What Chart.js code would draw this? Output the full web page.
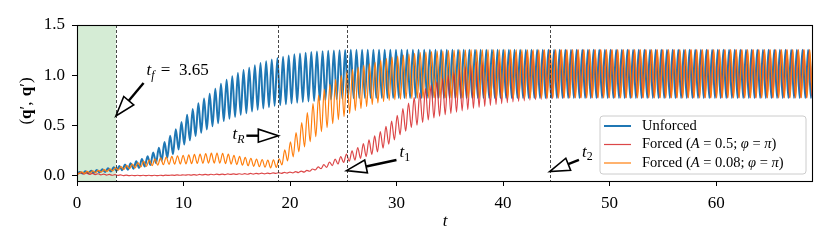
<!DOCTYPE html>
<html>
<head>
<meta charset="utf-8">
<script src="https://cdn.jsdelivr.net/npm/chart.js@4.4.1/dist/chart.umd.min.js"></script>
<style>
html,body{margin:0;padding:0;background:#fff;}
#wrap{width:831px;height:250px;position:relative;}
</style>
</head>
<body>
<div id="wrap"><canvas id="c"></canvas></div>
<script>
// ---------------- DATA ----------------
// oscillation period and phase of each series (time units)
const PERIOD = 0.53;
const phaseUnforced = 0.0;
const phaseForcedA05 = -0.413;
const phaseForcedA008 = -0.371;

// per-cycle troughs (lo) and peaks (hi), cycle k = 0..131
const unforcedLo = [
.020,.024,.028,.031,.035,.040,.045,.051,.057,.063,
.071,.081,.093,.110,.129,.152,.180,.215,.263,.312,
.354,.397,.430,.462,.493,.524,.545,.568,.587,.608,
.624,.641,.658,.671,.684,.697,.705,.713,.721,.728,
.735,.741,.746,.750,.754,.759,.763,.767,.769,.772,
.775,.775,.775,.775,.775,.775,.775,.775,.775,.775,
.775,.775,.775,.775,.775,.775,.775,.775,.775,.775,
.775,.775,.775,.775,.775,.775,.775,.775,.775,.775,
.775,.775,.775,.775,.775,.775,.775,.775,.775,.775,
.775,.775,.775,.775,.775,.775,.775,.775,.775,.775,
.775,.775,.775,.775,.775,.775,.775,.775,.775,.775,
.775,.775,.775,.775,.775,.775,.775,.775,.775,.775,
.775,.775,.775,.775,.775,.775,.775,.775,.775,.775,
.775,.775];
const unforcedHi = [
.040,.046,.052,.059,.067,.076,.087,.099,.113,.127,
.145,.169,.197,.234,.281,.338,.400,.465,.537,.608,
.666,.723,.770,.818,.867,.916,.955,.992,1.023,1.052,
1.076,1.099,1.122,1.139,1.156,1.173,1.185,1.197,1.209,1.218,
1.225,1.231,1.236,1.240,1.244,1.247,1.249,1.251,1.253,1.254,
1.255,1.255,1.255,1.255,1.255,1.255,1.255,1.255,1.255,1.255,
1.255,1.255,1.255,1.255,1.255,1.255,1.255,1.255,1.255,1.255,
1.255,1.255,1.255,1.255,1.255,1.255,1.255,1.255,1.255,1.255,
1.255,1.255,1.255,1.255,1.255,1.255,1.255,1.255,1.255,1.255,
1.255,1.255,1.255,1.255,1.255,1.255,1.255,1.255,1.255,1.255,
1.255,1.255,1.255,1.255,1.255,1.255,1.255,1.255,1.255,1.255,
1.255,1.255,1.255,1.255,1.255,1.255,1.255,1.255,1.255,1.255,
1.255,1.255,1.255,1.255,1.255,1.255,1.255,1.255,1.255,1.255,
1.255,1.255];

const forcedA05Lo = [
.022,.020,.018,.016,.014,.011,.009,.007,.006,.004,
.003,.003,.003,.003,.003,.003,.004,.005,.006,.007,
.008,.008,.009,.010,.011,.012,.013,.014,.015,.016,
.017,.017,.018,.020,.021,.023,.025,.026,.029,.031,
.034,.039,.047,.060,.072,.086,.103,.119,.134,.146,
.157,.175,.193,.214,.240,.277,.315,.358,.410,.445,
.480,.505,.532,.556,.577,.594,.609,.622,.634,.647,
.660,.672,.682,.692,.702,.710,.719,.728,.735,.741,
.747,.753,.758,.762,.766,.769,.772,.774,.775,.775,
.775,.775,.775,.775,.775,.775,.775,.775,.775,.775,
.775,.775,.775,.775,.775,.775,.775,.775,.775,.775,
.775,.775,.775,.775,.775,.775,.775,.775,.775,.775,
.775,.775,.775,.775,.775,.775,.775,.775,.775,.775,
.775,.775];
const forcedA05Hi = [
.038,.034,.030,.026,.022,.019,.015,.013,.010,.008,
.007,.007,.007,.007,.007,.007,.008,.009,.010,.011,
.012,.014,.015,.016,.017,.018,.019,.020,.021,.022,
.023,.025,.026,.028,.029,.031,.033,.036,.039,.043,
.048,.055,.069,.090,.112,.138,.167,.193,.218,.250,
.283,.321,.359,.398,.440,.493,.545,.602,.670,.725,
.780,.825,.868,.904,.935,.966,.999,1.028,1.056,1.083,
1.110,1.132,1.152,1.168,1.182,1.194,1.205,1.216,1.225,1.231,
1.237,1.243,1.248,1.250,1.252,1.253,1.254,1.254,1.255,1.255,
1.255,1.255,1.255,1.255,1.255,1.255,1.255,1.255,1.255,1.255,
1.255,1.255,1.255,1.255,1.255,1.255,1.255,1.255,1.255,1.255,
1.255,1.255,1.255,1.255,1.255,1.255,1.255,1.255,1.255,1.255,
1.255,1.255,1.255,1.255,1.255,1.255,1.255,1.255,1.255,1.255,
1.255,1.255];

const forcedA008Lo = [
.022,.024,.026,.030,.034,.039,.045,.051,.058,.065,
.073,.081,.089,.095,.102,.108,.112,.115,.117,.118,
.120,.122,.124,.126,.128,.128,.127,.123,.118,.113,
.107,.102,.096,.092,.088,.080,.085,.110,.150,.190,
.240,.290,.340,.390,.440,.480,.520,.560,.590,.620,
.650,.670,.690,.710,.725,.740,.750,.758,.763,.767,
.770,.772,.773,.774,.775,.775,.775,.775,.775,.775,
.775,.775,.775,.775,.775,.775,.775,.775,.775,.775,
.775,.775,.775,.775,.775,.775,.775,.775,.775,.775,
.775,.775,.775,.775,.775,.775,.775,.775,.775,.775,
.775,.775,.775,.775,.775,.775,.775,.775,.775,.775,
.775,.775,.775,.775,.775,.775,.775,.775,.775,.775,
.775,.775,.775,.775,.775,.775,.775,.775,.775,.775,
.775,.775];
const forcedA008Hi = [
.038,.042,.046,.050,.056,.063,.071,.081,.092,.105,
.119,.133,.147,.159,.170,.180,.188,.195,.201,.206,
.210,.214,.218,.222,.226,.228,.225,.217,.206,.195,
.185,.176,.168,.162,.158,.160,.170,.260,.340,.430,
.530,.630,.720,.800,.860,.910,.960,1.000,1.035,1.060,
1.080,1.100,1.115,1.130,1.150,1.165,1.180,1.190,1.200,1.210,
1.218,1.225,1.231,1.236,1.240,1.244,1.247,1.250,1.252,1.254,
1.255,1.255,1.255,1.255,1.255,1.255,1.255,1.255,1.255,1.255,
1.255,1.255,1.255,1.255,1.255,1.255,1.255,1.255,1.255,1.255,
1.255,1.255,1.255,1.255,1.255,1.255,1.255,1.255,1.255,1.255,
1.255,1.255,1.255,1.255,1.255,1.255,1.255,1.255,1.255,1.255,
1.255,1.255,1.255,1.255,1.255,1.255,1.255,1.255,1.255,1.255,
1.255,1.255,1.255,1.255,1.255,1.255,1.255,1.255,1.255,1.255,
1.255,1.255];

const xTickValues = [0, 10, 20, 30, 40, 50, 60];
const yTickValues = [0.0, 0.5, 1.0, 1.5];
const markerTimes = [3.65, 18.9, 25.3, 44.4];   // dashed vertical lines
const forcingWindow = [0, 3.65];                // shaded region
const seriesNames = ['Unforced', 'Forced (A = 0.5; φ = π)', 'Forced (A = 0.08; φ = π)'];

// annotations: [tipT, tipV, tailT, tailV, textT, textV(baseline)]
const annotations = [
  {label: 'tf',  tip: [3.65, 0.596], tail: [6.25, 0.924], text: [6.53, 1.003], align: 'left'},
  {label: 'tR',  tip: [18.9, 0.400], tail: [15.9, 0.400], text: [15.72, 0.368], align: 'right'},
  {label: 't1',  tip: [25.3, 0.053], tail: [29.99, 0.159], text: [30.27, 0.189], align: 'left'},
  {label: 't2',  tip: [44.37, 0.043], tail: [47.12, 0.159], text: [47.4, 0.192], align: 'left'}
];

// ---------------- build point lists ----------------
function buildPoints(lo, hi, phase) {
  const pts = [];
  for (let k = 0; k < lo.length; k++) {
    pts.push({x: phase + k * PERIOD, y: lo[k]});
    pts.push({x: phase + (k + 0.5) * PERIOD, y: hi[k]});
  }
  return pts;
}

const SERIF = "'Liberation Serif', 'DejaVu Serif', serif";

function drawRich(ctx, x, y, segs, size, align) {
  // segs: {t, it, b, sub}
  const fontFor = s => (s.it ? 'italic ' : '') + (s.b ? 'bold ' : '') + (s.sub ? size * 0.7 : size) + 'px ' + SERIF;
  let total = 0;
  const widths = segs.map(s => { ctx.font = fontFor(s); const w = ctx.measureText(s.t).width + (s.pad || 0); total += w; return w; });
  let cx = align === 'right' ? x - total : (align === 'center' ? x - total / 2 : x);
  segs.forEach((s, i) => {
    ctx.font = fontFor(s);
    ctx.fillText(s.t, cx + (s.padL || 0), y + (s.sub ? size * 0.22 : 0));
    cx += widths[i];
  });
}

const annTexts = {
  tf: [{t: 't', it: 1}, {t: 'f', it: 1, sub: 1, pad: 2}, {t: ' =  3.65'}],
  tR: [{t: 't', it: 1}, {t: 'R', it: 1, sub: 1}],
  t1: [{t: 't', it: 1}, {t: '1', sub: 1}],
  t2: [{t: 't', it: 1}, {t: '2', sub: 1}]
};

function drawArrow(ctx, tx, ty, hx, hy) {
  const dx = hx - tx, dy = hy - ty, len = Math.hypot(dx, dy);
  const ux = dx / len, uy = dy / len, nx = -uy, ny = ux;
  const L = 20, W = 6.5;
  const bx = hx - ux * L, by = hy - uy * L;
  ctx.save();
  ctx.strokeStyle = '#000';
  ctx.lineWidth = 2.4;
  ctx.beginPath(); ctx.moveTo(tx, ty); ctx.lineTo(bx, by); ctx.stroke();
  ctx.beginPath();
  ctx.moveTo(hx, hy);
  ctx.lineTo(bx + nx * W, by + ny * W);
  ctx.lineTo(bx - nx * W, by - ny * W);
  ctx.closePath();
  ctx.fillStyle = '#fff';
  ctx.fill();
  ctx.lineWidth = 1.6;
  ctx.lineJoin = 'miter';
  ctx.stroke();
  ctx.restore();
}

const decorPlugin = {
  id: 'decor',
  beforeDatasetsDraw(chart) {
    const {ctx, chartArea: a, scales: {x}} = chart;
    ctx.save();
    ctx.fillStyle = 'rgba(44,160,44,0.2)';
    const x0 = x.getPixelForValue(forcingWindow[0]), x1 = x.getPixelForValue(forcingWindow[1]);
    ctx.fillRect(x0, a.top, x1 - x0, a.bottom - a.top);
    ctx.restore();
  },
  afterDatasetsDraw(chart) {
    const {ctx, chartArea: a, scales: {x, y}} = chart;
    ctx.save();
    // dashed markers
    ctx.strokeStyle = '#333';
    ctx.lineWidth = 0.9;
    ctx.setLineDash([3, 2]);
    markerTimes.forEach(t => {
      const px = Math.round(x.getPixelForValue(t)) + 0.5;
      ctx.beginPath(); ctx.moveTo(px, a.top); ctx.lineTo(px, a.bottom); ctx.stroke();
    });
    ctx.setLineDash([]);
    // frame
    ctx.strokeStyle = '#000';
    ctx.lineWidth = 1.1;
    ctx.strokeRect(Math.round(a.left) + 0.5, Math.round(a.top) + 0.5, Math.round(a.right - a.left), Math.round(a.bottom - a.top));
    // arrows + annotation text
    ctx.fillStyle = '#000';
    ctx.textBaseline = 'alphabetic';
    annotations.forEach(an => {
      drawArrow(ctx, x.getPixelForValue(an.tail[0]), y.getPixelForValue(an.tail[1]),
                     x.getPixelForValue(an.tip[0]), y.getPixelForValue(an.tip[1]));
      drawRich(ctx, x.getPixelForValue(an.text[0]), y.getPixelForValue(an.text[1]), annTexts[an.label], 17, an.align);
    });
    // legend
    const lx = 600, ly = 116, lw = 206, lh = 58, r = 3;
    ctx.beginPath();
    ctx.moveTo(lx + r, ly); ctx.lineTo(lx + lw - r, ly); ctx.quadraticCurveTo(lx + lw, ly, lx + lw, ly + r);
    ctx.lineTo(lx + lw, ly + lh - r); ctx.quadraticCurveTo(lx + lw, ly + lh, lx + lw - r, ly + lh);
    ctx.lineTo(lx + r, ly + lh); ctx.quadraticCurveTo(lx, ly + lh, lx, ly + lh - r);
    ctx.lineTo(lx, ly + r); ctx.quadraticCurveTo(lx, ly, lx + r, ly);
    ctx.closePath();
    ctx.fillStyle = 'rgba(255,255,255,0.8)';
    ctx.fill();
    ctx.strokeStyle = '#cccccc';
    ctx.lineWidth = 1;
    ctx.stroke();
    const rows = [126, 144.5, 163];
    const legSegs = [
      [{t: seriesNames[0]}],
      [{t: 'Forced ('}, {t: 'A', it: 1}, {t: ' = 0.5; '}, {t: 'φ', it: 1}, {t: ' = '}, {t: 'π', it: 1}, {t: ')'}],
      [{t: 'Forced ('}, {t: 'A', it: 1}, {t: ' = 0.08; '}, {t: 'φ', it: 1}, {t: ' = '}, {t: 'π', it: 1}, {t: ')'}]
    ];
    chart.data.datasets.forEach((ds, i) => {
      ctx.strokeStyle = ds.borderColor;
      ctx.lineWidth = ds.borderWidth;
      ctx.beginPath(); ctx.moveTo(604, rows[i]); ctx.lineTo(631, rows[i]); ctx.stroke();
      ctx.fillStyle = '#000';
      ctx.textBaseline = 'middle';
      drawRich(ctx, 642, rows[i], legSegs[i], 14.5, 'left');
    });
    // axis labels
    ctx.textBaseline = 'middle';
    drawRich(ctx, 445, 222, [{t: 't', it: 1}], 17, 'center');
    ctx.translate(27, 101);
    ctx.rotate(-Math.PI / 2);
    drawRich(ctx, 0, 0, [{t: '('}, {t: 'q', b: 1}, {t: '′, ', pad: 1}, {t: 'q', b: 1}, {t: '′)'}], 17, 'center');
    ctx.restore();
  }
};

const datasets = [
  {label: seriesNames[0], data: buildPoints(unforcedLo, unforcedHi, phaseUnforced), borderColor: '#1f77b4', borderWidth: 2, order: 3},
  {label: seriesNames[1], data: buildPoints(forcedA05Lo, forcedA05Hi, phaseForcedA05), borderColor: 'rgba(214,39,40,0.85)', borderWidth: 1.2, order: 2},
  {label: seriesNames[2], data: buildPoints(forcedA008Lo, forcedA008Hi, phaseForcedA008), borderColor: '#ff7f0e', borderWidth: 1.2, order: 1}
].map(d => Object.assign(d, {pointRadius: 0, fill: false, cubicInterpolationMode: 'monotone', clip: 0}));

new Chart(document.getElementById('c'), {
  type: 'line',
  data: {datasets},
  plugins: [decorPlugin],
  options: {
    responsive: true,
    maintainAspectRatio: false,
    animation: false,
    events: [],
    layout: {padding: {left: 0, right: 19, top: 25, bottom: 0}},
    plugins: {legend: {display: false}, tooltip: {enabled: false}},
    scales: {
      x: {
        type: 'linear', min: 0, max: 69,
        afterFit(s) { s.height = 69; },
        afterBuildTicks(s) { s.ticks = xTickValues.map(v => ({value: v})); },
        grid: {drawOnChartArea: false, drawTicks: true, tickLength: 5, color: '#000', lineWidth: 1},
        border: {display: true, color: '#000', width: 1},
        ticks: {font: {family: SERIF, size: 17}, color: '#000', padding: 7, maxRotation: 0,
                callback: v => String(v)}
      },
      y: {
        type: 'linear', min: -0.05, max: 1.5,
        afterFit(s) { s.width = 77; },
        afterBuildTicks(s) { s.ticks = yTickValues.map(v => ({value: v})); },
        grid: {drawOnChartArea: false, drawTicks: true, tickLength: 5, color: '#000', lineWidth: 1},
        border: {display: true, color: '#000', width: 1},
        ticks: {font: {family: SERIF, size: 17}, color: '#000', padding: 7,
                callback: v => Number(v).toFixed(1)}
      }
    }
  }
});
</script>
</body>
</html>
